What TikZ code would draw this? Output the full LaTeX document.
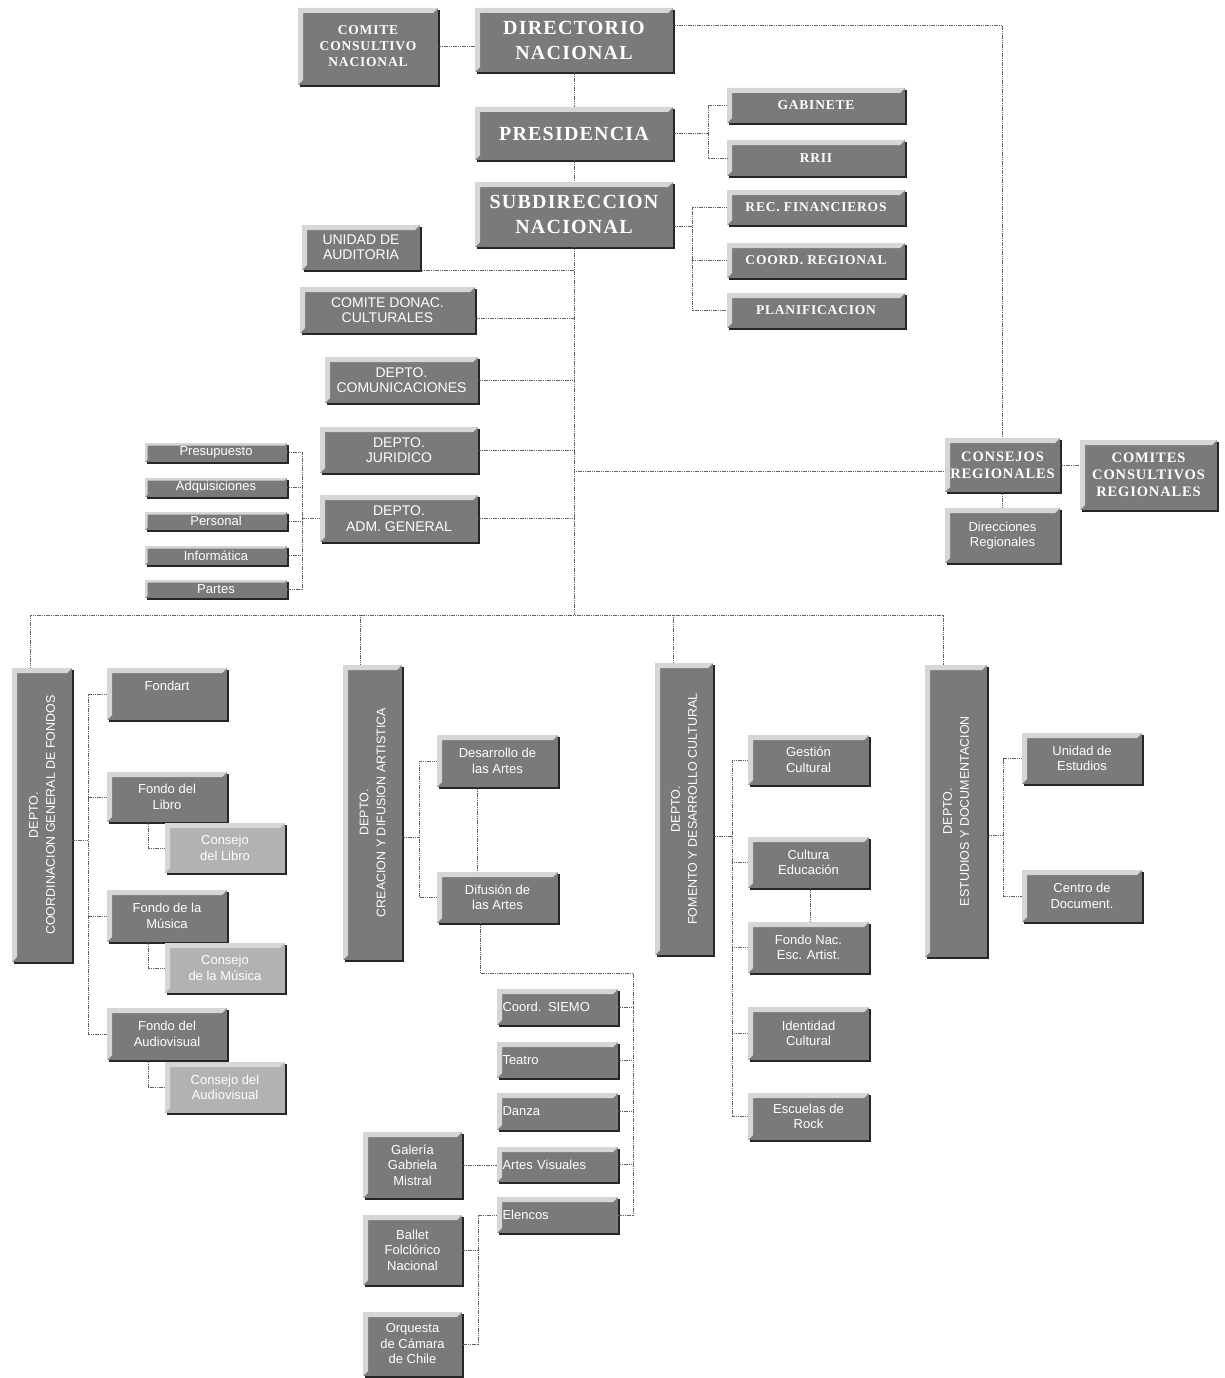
\documentclass[tikz,border=0pt]{standalone}
\usepackage{fontspec}
\setmainfont{Liberation Sans}
\newfontfamily\serifcaps[LetterSpace=6]{Liberation Serif}
\usetikzlibrary{shadows,calc}

\newcommand\fhuge{\serifcaps\bfseries\fontsize{20}{25}\selectfont}
\newcommand\fcaps{\serifcaps\bfseries\fontsize{13.5}{16}\selectfont}
\newcommand\fcapsb{\serifcaps\bfseries\fontsize{14.5}{17}\selectfont}
\newcommand\fstaff{\fontsize{14}{15.5}\selectfont}
\newcommand\fsans{\fontsize{13}{15.5}\selectfont}
\newcommand\fvert{\fontsize{12.5}{17}\selectfont}
\def\bv{5pt}

\newcommand\bx[7][]{%
 \pgfmathsetmacro\BXw{#5-#3}\pgfmathsetmacro\BXh{#6-#4}%
 \pgfmathsetmacro\BXx{(#3+#5)/2}\pgfmathsetmacro\BXy{(#4+#6)/2}%
 \node[box,minimum width=\BXw pt,minimum height=\BXh pt,#1] (#2) at (\BXx,\BXy) {#7};}

\tikzset{
 box/.style={fill=black!52, text=white, align=center, inner sep=0pt, font=\fsans,
   drop shadow={shadow xshift=2pt,shadow yshift=-2pt,fill=black!85,opacity=1},
   path picture={\fill[black!16] (path picture bounding box.north west) -- (path picture bounding box.north east)
     -- ([xshift=-\bv,yshift=-\bv]path picture bounding box.north east)
     -- ([xshift=\bv,yshift=-\bv]path picture bounding box.north west)
     -- ([xshift=\bv,yshift=\bv]path picture bounding box.south west)
     -- (path picture bounding box.south west) -- cycle;}},
 bvw/.code={\def\bv{#1}},
 lite/.style={fill=black!30},
 huge/.style={font=\fhuge},
 caps/.style={font=\fcaps},
 capsb/.style={font=\fcapsb},
 staff/.style={font=\fstaff},
 lft/.style={text width=110pt, align=left},
 vtext/.style={rotate=90, text=white, align=center, font=\fvert, inner sep=0pt},
 ln/.style={draw=black!62, line width=0.6pt, dash pattern=on 1.2pt off 0.6pt},
}

\begin{document}
\begin{tikzpicture}[x=1pt,y=-1pt]
\useasboundingbox[fill=white] (0,0) rectangle (1224,1378);

% ---- top
\bx[caps]{ccn}{298}{8}{438}{85}{COMITE\\CONSULTIVO\\NACIONAL}
\bx[huge]{dir}{475}{8}{673}{72}{DIRECTORIO\\NACIONAL}
\bx[huge]{pres}{475}{107}{673}{160}{PRESIDENCIA}
\bx[huge]{sub}{475}{182}{673}{247}{SUBDIRECCION\\NACIONAL}
\bx[caps]{gab}{727}{88}{905}{123}{GABINETE}
\bx[caps]{rrii}{727}{140}{905}{176}{RRII}
\bx[caps]{rec}{727}{190}{905}{225}{REC. FINANCIEROS}
\bx[caps]{creg}{727}{243}{905}{278}{COORD. REGIONAL}
\bx[caps]{plan}{727}{293}{905}{328}{PLANIFICACION}

% ---- staff
\bx[staff]{aud}{302}{225}{420}{270}{UNIDAD DE\\AUDITORIA}
\bx[staff]{cdon}{300}{287}{475}{333}{COMITE DONAC.\\CULTURALES}
\bx[staff]{com}{325}{357}{478}{403}{DEPTO.\\COMUNICACIONES}
\bx[staff]{jur}{320}{427}{478}{473}{DEPTO.\\JURIDICO}
\bx[staff]{adm}{320}{495}{478}{542}{DEPTO.\\ADM. GENERAL}

\bx[bvw=2.5pt]{p1}{145}{443}{287}{462}{Presupuesto}
\bx[bvw=2.5pt]{p2}{145}{478}{287}{497}{Adquisiciones}
\bx[bvw=2.5pt]{p3}{145}{512}{287}{530}{Personal}
\bx[bvw=2.5pt]{p4}{145}{546}{287}{565}{Informática}
\bx[bvw=2.5pt]{p5}{145}{580}{287}{598}{Partes}

% ---- regional
\bx[capsb]{conr}{945}{438}{1060}{492}{CONSEJOS\\REGIONALES}
\bx[capsb]{comr}{1080}{440}{1217}{510}{COMITES\\CONSULTIVOS\\REGIONALES}
\bx{dirr}{945}{508}{1060}{563}{Direcciones\\Regionales}

% ---- departments
\bx{dcg}{12}{668}{72}{962}{}
\node[vtext] (dcgt) at (dcg) {DEPTO.\\COORDINACION GENERAL DE FONDOS};
\bx{dcr}{343}{665}{402}{960}{}
\node[vtext] (dcrt) at (dcr) {DEPTO.\\CREACION Y DIFUSION ARTISTICA};
\bx{dfo}{655}{663}{713}{955}{}
\node[vtext] (dfot) at (dfo) {DEPTO.\\FOMENTO Y DESARROLLO CULTURAL};
\bx{des}{925}{665}{987}{957}{}
\node[vtext] (dest) at (des) {DEPTO.\\ESTUDIOS Y DOCUMENTACION};

% ---- coordinacion children
\bx{fondart}{107}{668}{227}{720}{Fondart\\\mbox{}}
\bx{flib}{107}{772}{227}{822}{Fondo del\\Libro}
\bx[lite]{clib}{165}{823}{285}{873}{Consejo\\del Libro}
\bx{fmus}{107}{890}{227}{942}{Fondo de la\\Música}
\bx[lite]{cmus}{165}{943}{285}{993}{Consejo\\de la Música}
\bx{faud}{107}{1008}{227}{1060}{Fondo del\\Audiovisual}
\bx[lite]{caud}{165}{1062}{285}{1113}{Consejo del\\Audiovisual}

% ---- creacion children
\bx{desa}{437}{735}{558}{787}{Desarrollo de\\las Artes}
\bx{difu}{437}{872}{558}{923}{Difusión de\\las Artes}
\bx[lft]{siemo}{497}{989}{618}{1025}{Coord. SIEMO}
\bx[lft]{teatro}{497}{1042}{618}{1078}{Teatro}
\bx[lft]{danza}{497}{1093}{618}{1130}{Danza}
\bx[lft]{artes}{497}{1147}{618}{1182}{Artes Visuales}
\bx[lft]{elen}{497}{1197}{618}{1233}{Elencos}
\bx{gal}{363}{1132}{462}{1198}{Galería\\Gabriela\\Mistral}
\bx{ballet}{363}{1215}{462}{1285}{Ballet\\Folclórico\\Nacional}
\bx{orq}{363}{1312}{462}{1376}{Orquesta\\de Cámara\\de Chile}

% ---- fomento children
\bx{gest}{748}{735}{869}{785}{Gestión\\Cultural}
\bx{cedu}{748}{837}{869}{888}{Cultura\\Educación}
\bx{fnac}{748}{922}{869}{973}{Fondo Nac.\\Esc. Artist.}
\bx{iden}{748}{1007}{869}{1060}{Identidad\\Cultural}
\bx{escu}{748}{1093}{869}{1140}{Escuelas de\\Rock}

% ---- estudios children
\bx{ues}{1022}{733}{1142}{784}{Unidad de\\Estudios}
\bx{cdoc}{1022}{870}{1142}{922}{Centro de\\Document.}

% ================= connectors
\coordinate (dr) at (1002,25);
\draw[ln] (dr -| dir.east) -- (dr) -- (dr |- conr.north);
\draw[ln] (ccn.east) -- (ccn.east -| dir.west);
\draw[ln] (dir.south) -- (pres.north);
\draw[ln] (pres.south) -- (sub.north);
\coordinate (bus) at (574,615);
\draw[ln] (sub.south) -- (bus);
\coordinate (busL) at (30,615);
\coordinate (busR) at (943,615);
\draw[ln] (busL |- dcg.north) -- (busL) -- (busR) -- (busR |- des.north);
\coordinate (b2) at (360,615);
\draw[ln] (b2) -- (b2 |- dcr.north);
\coordinate (b3) at (673,615);
\draw[ln] (b3) -- (b3 |- dfo.north);

% presidencia
\coordinate (pb) at (708,0);
\draw[ln] (pres.east) -- (pres.east -| pb);
\draw[ln] (gab.west) -- (gab.west -| pb) -- (rrii.west -| pb) -- (rrii.west);

% subdireccion
\coordinate (sb) at (692,0);
\coordinate (se) at ([yshift=-12pt]sub.east);
\draw[ln] (se) -- (se -| sb);
\draw[ln] (rec.west) -- (rec.west -| sb) -- (plan.west -| sb) -- (plan.west);
\draw[ln] (creg.west) -- (creg.west -| sb);

% staff
\draw[ln] (aud.south east) -- (aud.south east -| bus);
\coordinate (cd) at ([yshift=-8pt]cdon.east);
\draw[ln] (cd) -- (cd -| bus);
\draw[ln] (com.east) -- (com.east -| bus);
\draw[ln] (jur.east) -- (jur.east -| bus);
\draw[ln] (adm.east) -- (adm.east -| bus);
\coordinate (cj) at ([yshift=-6pt]conr.west);
\draw[ln] (cj -| bus) -- (cj);
\draw[ln] (conr.east) -- (conr.east -| comr.west);
\draw[ln] (conr.south) -- (dirr.north);

% adm
\coordinate (ab) at (302,0);
\draw[ln] (adm.west) -- (adm.west -| ab);
\draw[ln] (p1.east) -- (p1.east -| ab) -- (p5.east -| ab) -- (p5.east);
\foreach \n in {p2,p3,p4} \draw[ln] (\n.east) -- (\n.east -| ab);

% coordinacion
\coordinate (cb) at (88,0);
\coordinate (ce) at ([yshift=-25pt]dcg.east);
\draw[ln] (ce) -- (ce -| cb);
\draw[ln] (fondart.west) -- (fondart.west -| cb) -- (faud.west -| cb) -- (faud.west);
\foreach \n in {flib,fmus} \draw[ln] (\n.west) -- (\n.west -| cb);
\coordinate (kb) at (148,0);
\draw[ln] (flib.south -| kb) -- (clib.west -| kb) -- (clib.west);
\draw[ln] (fmus.south -| kb) -- (cmus.west -| kb) -- (cmus.west);
\draw[ln] (faud.south -| kb) -- (caud.west -| kb) -- (caud.west);

% creacion
\coordinate (rb) at (419,0);
\coordinate (re) at ([yshift=-25pt]dcr.east);
\draw[ln] (re) -- (re -| rb);
\draw[ln] (desa.west) -- (desa.west -| rb) -- (difu.west -| rb) -- (difu.west);
\coordinate (dx) at (477,0);
\draw[ln] (desa.south -| dx) -- (difu.north -| dx);
\coordinate (fa) at (480,973);
\coordinate (fr) at (633,973);
\draw[ln] (difu.south -| fa) -- (fa) -- (fr) -- (elen.east -| fr) -- (elen.east);
\foreach \n in {siemo,teatro,danza,artes} \draw[ln] (\n.east) -- (\n.east -| fr);
\draw[ln] (gal.east) -- (gal.east -| artes.west);
\coordinate (eb) at (478,0);
\draw[ln] (elen.west) -- (elen.west -| eb) -- (orq.east -| eb) -- (orq.east);
\draw[ln] (ballet.east) -- (ballet.east -| eb);

% fomento
\coordinate (fb) at (732,0);
\coordinate (fe) at ([yshift=-27pt]dfo.east);
\draw[ln] (fe) -- (fe -| fb);
\draw[ln] (gest.west) -- (gest.west -| fb) -- (escu.west -| fb) -- (escu.west);
\foreach \n in {cedu,fnac,iden} \draw[ln] (\n.west) -- (\n.west -| fb);
\coordinate (fx) at (810,0);
\draw[ln] (cedu.south -| fx) -- (fnac.north -| fx);

% estudios
\coordinate (sb2) at (1003,0);
\coordinate (ee) at ([yshift=-24pt]des.east);
\draw[ln] (ee) -- (ee -| sb2);
\draw[ln] (ues.west) -- (ues.west -| sb2) -- (cdoc.west -| sb2) -- (cdoc.west);
\end{tikzpicture}
\end{document}
